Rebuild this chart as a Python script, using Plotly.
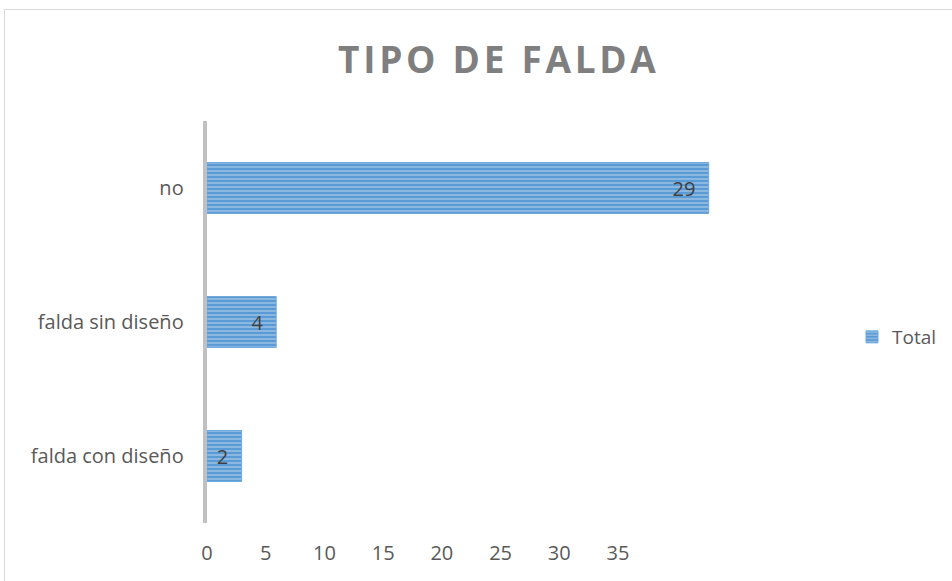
import plotly.graph_objects as go

categories = ["falda con diseño", "falda sin diseño", "no"]
values = [2, 4, 29]
series_name = "Total"
title_text = "TIPO DE FALDA"
x_ticks = [0, 5, 10, 15, 20, 25, 30, 35]
axis_max = 35

W, H = 952, 581
L, R, T, B = 207, 222, 121, 58
pw, ph = W - L - R, H - T - B
bar_px_per_unit = 17.3    # scale the source uses for the bars
tick_axis_px = 411        # width the printed 0-35 axis occupies in the source

def px_x(p):
    return (p - L) / pw

def px_y(p):
    return (H - B - p) / ph

FONT = "Open Sans"
FS = 20

fig = go.Figure()
fig.add_trace(go.Bar(
    y=categories, x=values, orientation="h", name=series_name,
    text=[f"{v}\u00a0\u00a0" for v in values], textposition="inside", insidetextanchor="end",
    textfont=dict(size=FS, color="#404040", family=FONT),
    marker=dict(
        color="#5B9BD5",
        line=dict(color="#6FA8DC", width=1),
        pattern=dict(shape="-", bgcolor="#5B9BD5", fgcolor="#D0E3F4", size=4, solidity=0.4, fillmode="overlay"),
    ),
    width=0.38,
    showlegend=True,
    xaxis="x", yaxis="y",
))
fig.add_trace(go.Scatter(x=[None], y=[None], xaxis="x2", yaxis="y", mode="markers",
                         showlegend=False, hoverinfo="skip"))

fig.update_layout(
    width=W, height=H,
    margin=dict(l=L, r=R, t=T, b=B, autoexpand=False),
    paper_bgcolor="white", plot_bgcolor="rgba(0,0,0,0)",
    font=dict(family=FONT, color="#595959", size=FS),
    title=dict(text="<b>" + "\u200a".join(title_text) + "</b>", x=497 / W, xanchor="center",
               y=1 - 60 / H, yanchor="middle",
               font=dict(size=37, color="#7F7F7F", family=FONT)),
    xaxis=dict(range=[0, pw / bar_px_per_unit], domain=[0, 1], showgrid=False, zeroline=False,
               showline=False, showticklabels=False, ticks=""),
    xaxis2=dict(range=[0, axis_max], tickvals=x_ticks, domain=[0, tick_axis_px / pw], anchor="y",
                side="bottom", showgrid=False, zeroline=False, showline=False, ticks="",
                ticklabelstandoff=16, tickfont=dict(size=FS, color="#595959")),
    yaxis=dict(showgrid=False, zeroline=False, showline=True, linecolor="#C0C0C0", linewidth=3.5,
               ticks="", tickfont=dict(size=FS, color="#595959"), ticksuffix="   "),
    legend=dict(x=px_x(852), xanchor="left", y=px_y(337), yanchor="middle",
                font=dict(size=19, color="#595959"), itemwidth=30),
    bargap=0.62,
    shapes=[dict(type="rect", xref="paper", yref="paper",
                 x0=px_x(4.5), x1=px_x(1100), y0=px_y(1100), y1=px_y(9.5),
                 line=dict(color="#D9D9D9", width=1), fillcolor="rgba(0,0,0,0)", layer="below")],
)

fig.write_html("out.html", config={"displayModeBar": False},
               post_script="document.body.style.margin='0';")
